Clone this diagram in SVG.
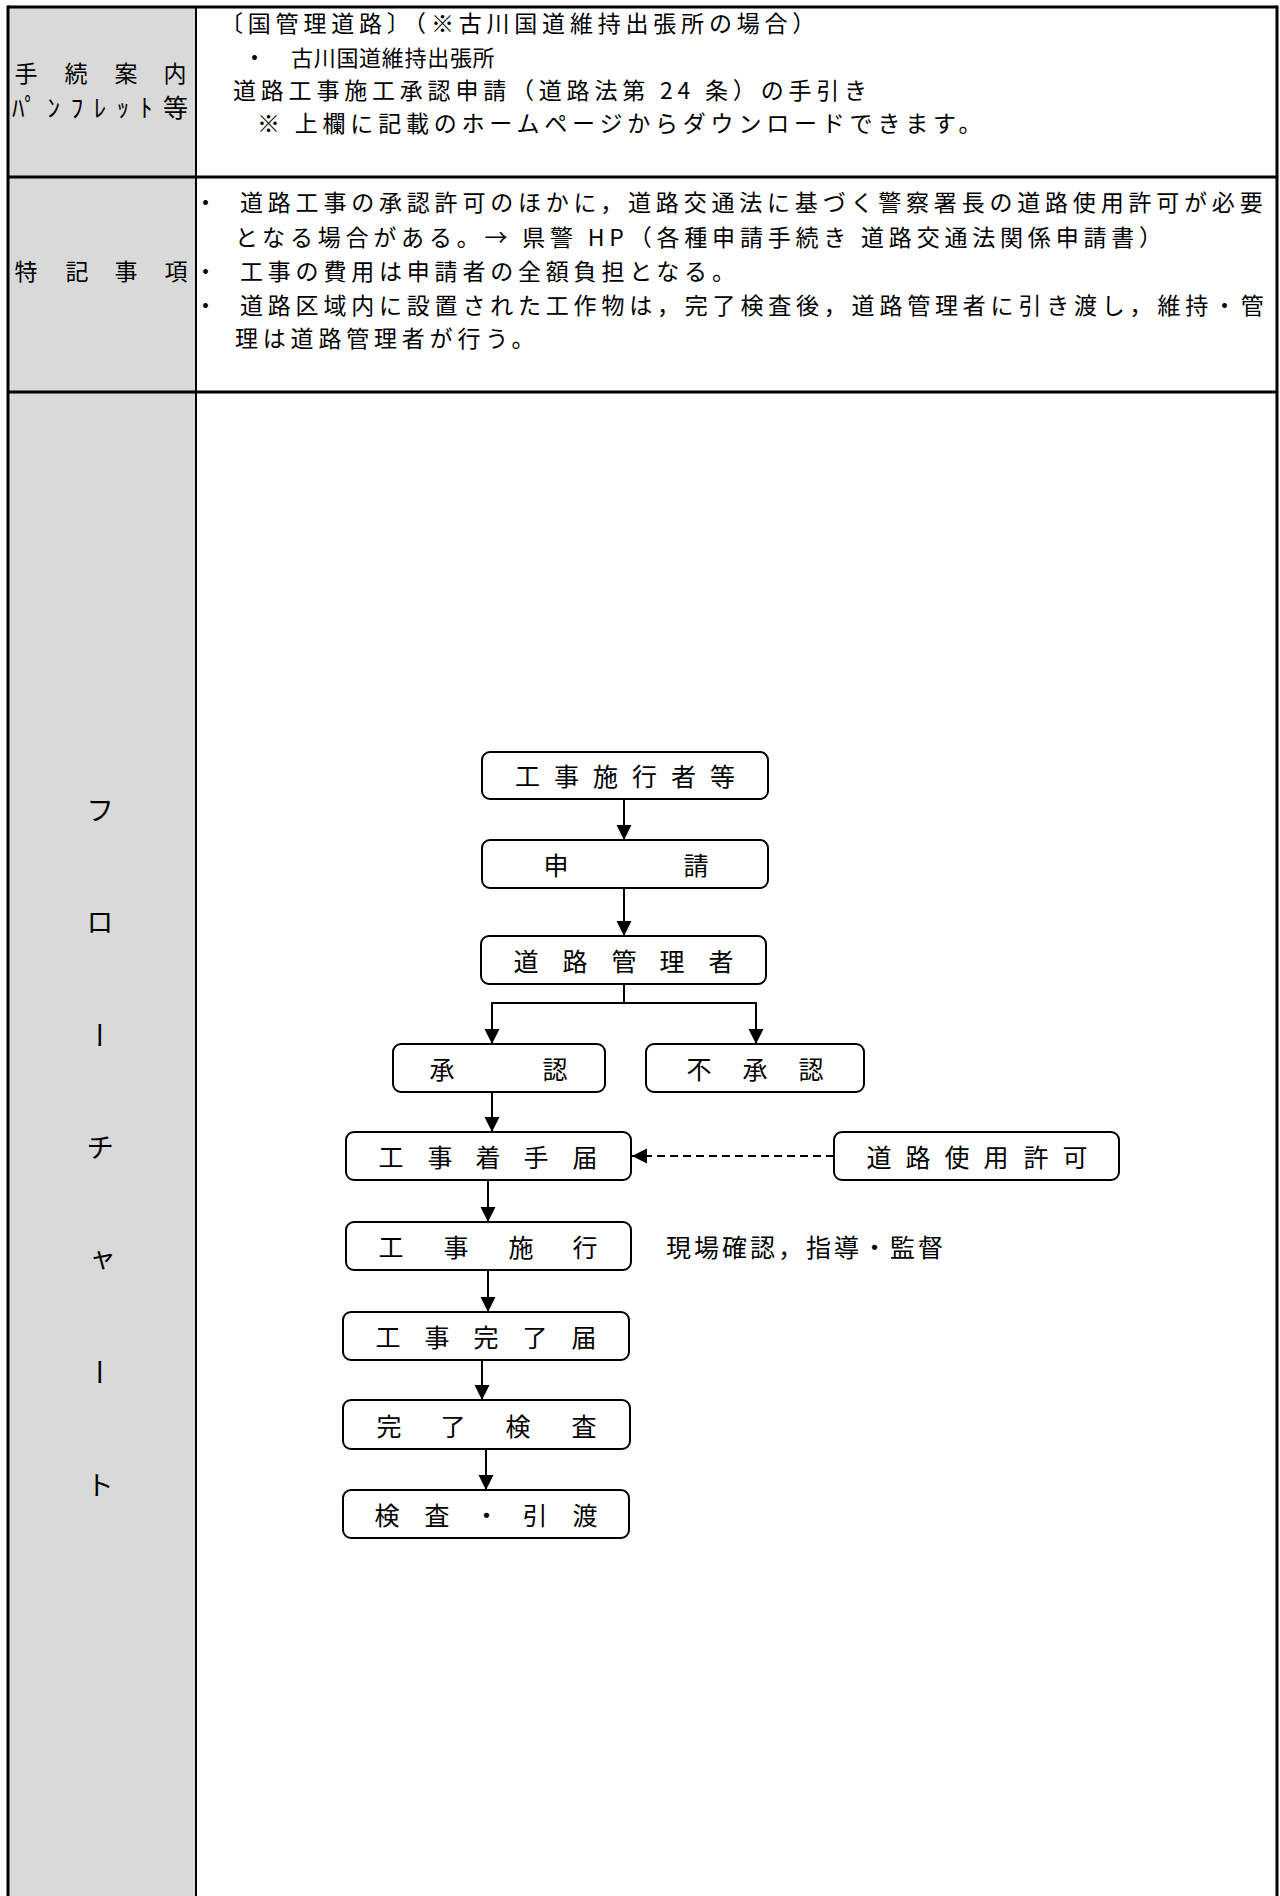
<svg xmlns="http://www.w3.org/2000/svg" width="1280" height="1896" viewBox="0 0 1280 1896">
<style>
.t{font-family:"Noto Sans CJK JP","Noto Sans CJK SC",sans-serif;fill:#000}
.body{font-size:23px;letter-spacing:4.8px;dominant-baseline:central}
.lab{font-size:23px;dominant-baseline:central;text-anchor:middle}
.bt{font-size:25px;dominant-baseline:central;text-anchor:middle}
.box{fill:#fff;stroke:#000;stroke-width:2}
.c{stroke:#000;stroke-width:2;fill:none}
.dash{stroke-dasharray:8 5}
</style>
<defs>
<marker id="ah" viewBox="0 0 10 10" refX="10" refY="5" markerWidth="15" markerHeight="16" markerUnits="userSpaceOnUse" orient="auto">
<path d="M0,0 L10,5 L0,10 z" fill="#000"/>
</marker>
</defs>
<rect x="0" y="0" width="1280" height="1896" fill="#fff"/>
<g id="table">
<rect x="8" y="8" width="188" height="1888" fill="#d9d9d9"/>
<line x1="196" y1="8" x2="196" y2="1896" stroke="#000" stroke-width="2"/>
<line x1="8" y1="177" x2="1277" y2="177" stroke="#000" stroke-width="3"/>
<line x1="8" y1="392" x2="1277" y2="392" stroke="#000" stroke-width="3"/>
<line x1="8" y1="7" x2="1277" y2="7" stroke="#000" stroke-width="3"/>
<line x1="8" y1="5.5" x2="8" y2="1896" stroke="#000" stroke-width="3"/>
<line x1="1277" y1="5.5" x2="1277" y2="1896" stroke="#000" stroke-width="3"/>
</g>
<g id="row-pamphlet">
<text class="t lab" x="26 76 126 175" y="72">手続案内</text>
<text class="t" x="12" y="106" font-size="25" dominant-baseline="central" textLength="176" lengthAdjust="spacing">ﾊﾟﾝﾌﾚｯﾄ等</text>
<text class="t body" x="220" y="22" letter-spacing="4.2">〔国管理道路〕（※古川国道維持出張所の場合）</text>
<text class="t body" y="56"><tspan x="243">・</tspan><tspan x="291" font-size="22" letter-spacing="0.7">古川国道維持出張所</tspan></text>
<text class="t body" x="233" y="89" letter-spacing="4.1">道路工事施工承認申請（道路法第 24 条）の手引き</text>
<text class="t body" x="257" y="122" letter-spacing="4.5">※ 上欄に記載のホームページからダウンロードできます。</text>
</g>
<g id="row-notes">
<text class="t lab" x="26 77 126 176" y="270">特記事項</text>
<text class="t body" y="201"><tspan x="194">・</tspan><tspan x="240">道路工事の承認許可のほかに，道路交通法に基づく警察署長の道路使用許可が必要</tspan></text>
<text class="t body" x="235" y="235.5">となる場合がある。→ 県警 HP（各種申請手続き 道路交通法関係申請書）</text>
<text class="t body" y="270"><tspan x="194">・</tspan><tspan x="240">工事の費用は申請者の全額負担となる。</tspan></text>
<text class="t body" y="303.5"><tspan x="194">・</tspan><tspan x="240">道路区域内に設置された工作物は，完了検査後，道路管理者に引き渡し，維持・管</tspan></text>
<text class="t body" x="235" y="337">理は道路管理者が行う。</text>
</g>
<g id="row-flow-label">
<text class="t" x="100" y="796" font-size="28" writing-mode="vertical-rl" letter-spacing="84.5">フローチャート</text>
</g>
<g id="connectors">
<line class="c" x1="624" y1="798" x2="624" y2="840" marker-end="url(#ah)"/>
<line class="c" x1="624" y1="888" x2="624" y2="936" marker-end="url(#ah)"/>
<polyline class="c" points="624,984 624,1003 492,1003 492,1044" marker-end="url(#ah)"/>
<polyline class="c" points="624,1003 756,1003 756,1044" marker-end="url(#ah)"/>
<line class="c" x1="492" y1="1092" x2="492" y2="1132" marker-end="url(#ah)"/>
<line class="c dash" x1="834" y1="1156" x2="632" y2="1156" marker-end="url(#ah)"/>
<line class="c" x1="488" y1="1180" x2="488" y2="1222" marker-end="url(#ah)"/>
<line class="c" x1="488" y1="1270" x2="488" y2="1312" marker-end="url(#ah)"/>
<line class="c" x1="482" y1="1360" x2="482" y2="1400" marker-end="url(#ah)"/>
<line class="c" x1="486" y1="1449" x2="486" y2="1490" marker-end="url(#ah)"/>
</g>
<g id="n-contractor"><rect class="box" x="482" y="752" width="286" height="47" rx="8"/><text class="t bt" x="527.5 566.5 605.5 644.5 683.5 722.5" y="775">工事施行者等</text></g>
<g id="n-apply"><rect class="box" x="482" y="840" width="286" height="48" rx="8"/><text class="t bt" x="556 696" y="864">申請</text></g>
<g id="n-manager"><rect class="box" x="481" y="936" width="285" height="48" rx="8"/><text class="t bt" x="526 575 624 672 721" y="960">道路管理者</text></g>
<g id="n-approve"><rect class="box" x="393" y="1044" width="212" height="48" rx="8"/><text class="t bt" x="442 555" y="1068">承認</text></g>
<g id="n-reject"><rect class="box" x="646" y="1044" width="218" height="48" rx="8"/><text class="t bt" x="699 755 811" y="1068">不承認</text></g>
<g id="n-start"><rect class="box" x="346" y="1132" width="285" height="48" rx="8"/><text class="t bt" x="391 440 488 536 585" y="1156">工事着手届</text></g>
<g id="n-permit"><rect class="box" x="834" y="1132" width="285" height="48" rx="8"/><text class="t bt" x="879 918 957 996 1036 1075" y="1156">道路使用許可</text></g>
<g id="n-works"><rect class="box" x="346" y="1222" width="285" height="48" rx="8"/><text class="t bt" x="391 456 521 585" y="1246">工事施行</text></g>
<text class="t" x="666" y="1246" font-size="25" dominant-baseline="central" textLength="277" lengthAdjust="spacing">現場確認，指導・監督</text>
<g id="n-complete"><rect class="box" x="343" y="1312" width="286" height="48" rx="8"/><text class="t bt" x="388 437 486 535 584" y="1336">工事完了届</text></g>
<g id="n-inspect"><rect class="box" x="343" y="1400" width="287" height="49" rx="8"/><text class="t bt" x="389 453 518 584" y="1424.5">完了検査</text></g>
<g id="n-handover"><rect class="box" x="343" y="1490" width="286" height="48" rx="8"/><text class="t bt" x="387 437 486.5 535 585" y="1514">検査・引渡</text></g>
</svg>
